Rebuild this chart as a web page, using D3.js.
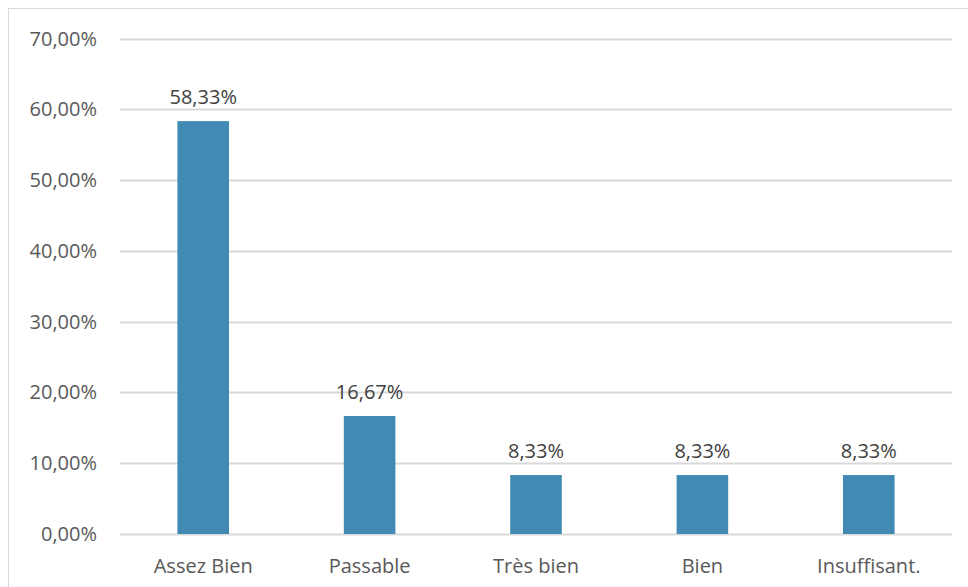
<!DOCTYPE html>
<html>
<head>
<meta charset="utf-8">
<script src="https://cdn.jsdelivr.net/npm/d3@7"></script>
<style>
  body { margin: 0; background: #fff; }
  svg text { font-family: "Open Sans", "Noto Sans", sans-serif; fill: #595959; }
</style>
</head>
<body>
<svg id="chart" width="968" height="587"></svg>
<script>
const categories = ["Assez Bien", "Passable", "Très bien", "Bien", "Insuffisant."];
const values = [58.33, 16.67, 8.33, 8.33, 8.33];
const yTicks = [0, 10, 20, 30, 40, 50, 60, 70];

const svg = d3.select("#chart");
const margin = { left: 120, right: 16, top: 38.5, bottom: 53 };
const W = 968, H = 587;

// chart frame
svg.append("rect")
  .attr("x", 8.5).attr("y", 8.5)
  .attr("width", 968).attr("height", 600)
  .attr("fill", "none").attr("stroke", "#d9d9d9");

const x = d3.scaleBand()
  .domain(categories)
  .range([margin.left, W - margin.right])
  .paddingInner(0.69).paddingOuter(0.345);

const y = d3.scaleLinear()
  .domain([0, 70])
  .range([H - margin.bottom, margin.top]);

const fmt = v => v.toFixed(2).replace(".", ",") + "%";

// gridlines
svg.append("g")
  .selectAll("line")
  .data(yTicks)
  .join("line")
  .attr("x1", margin.left).attr("x2", W - margin.right)
  .attr("y1", d => Math.round(y(d)) + 0.5).attr("y2", d => Math.round(y(d)) + 0.5)
  .attr("stroke", "#d9d9d9").attr("stroke-width", 2);

// y labels
svg.append("g")
  .selectAll("text")
  .data(yTicks)
  .join("text")
  .attr("x", 97).attr("y", d => y(d))
  .attr("dy", "0.35em")
  .attr("text-anchor", "end")
  .attr("font-size", 20)
  .text(d => fmt(d));

// bars
svg.append("g")
  .selectAll("rect")
  .data(values)
  .join("rect")
  .attr("x", (d, i) => x(categories[i]))
  .attr("width", x.bandwidth())
  .attr("y", d => y(d))
  .attr("height", d => y(0) - y(d))
  .attr("fill", "#418ab3");

// value labels
svg.append("g")
  .selectAll("text")
  .data(values)
  .join("text")
  .attr("x", (d, i) => x(categories[i]) + x.bandwidth() / 2)
  .attr("y", d => y(d) - 24)
  .attr("dy", "0.35em")
  .attr("text-anchor", "middle")
  .attr("font-size", 20)
  .style("fill", "#404040")
  .text(d => fmt(d));

// category labels
svg.append("g")
  .selectAll("text")
  .data(categories)
  .join("text")
  .attr("x", d => x(d) + x.bandwidth() / 2)
  .attr("y", 566)
  .attr("dy", "0.35em")
  .attr("text-anchor", "middle")
  .attr("font-size", 20)
  .text(d => d);
</script>
</body>
</html>
